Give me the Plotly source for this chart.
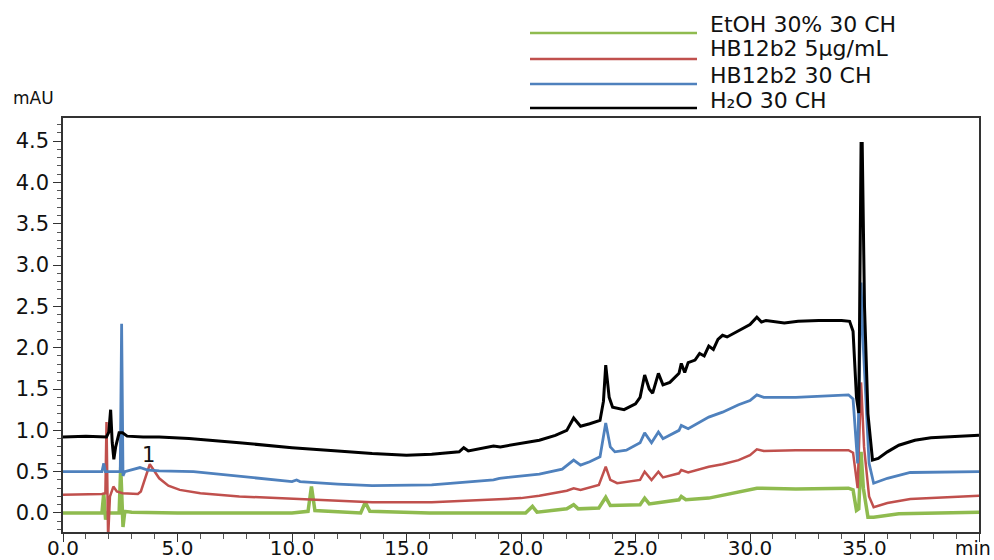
import plotly.graph_objects as go

# ---------------- data ----------------
h2o_t = [0, 1.0, 1.9, 2.0, 2.08, 2.15, 2.22, 2.3, 2.45, 2.6, 2.8, 3.5, 4.2, 5.5, 7.7, 10.0, 12.0, 13.5,
         15.0, 16.1, 17.3, 17.5, 17.7, 18.8, 19.1, 20.0, 20.8, 21.5, 22.0, 22.3, 22.6, 23.0, 23.45, 23.6,
         23.7, 23.85, 24.0, 24.5, 25.0, 25.2, 25.4, 25.6, 25.75, 26.0, 26.2, 26.5, 26.9, 27.0, 27.15, 27.3,
         27.6, 27.8, 28.0, 28.2, 28.4, 28.6, 28.8, 29.0, 29.5, 30.0, 30.3, 30.5, 30.7, 31.5, 32.1, 33.0,
         34.0, 34.35, 34.5, 34.65, 34.75, 34.85, 34.9, 35.0, 35.15, 35.35, 35.6, 36.0, 36.5, 37.2, 37.9,
         39.0, 40.0]
h2o_v = [0.92, 0.93, 0.92, 0.98, 1.25, 0.85, 0.65, 0.80, 0.97, 0.97, 0.93, 0.92, 0.92, 0.90, 0.85, 0.79,
         0.75, 0.72, 0.70, 0.71, 0.74, 0.79, 0.75, 0.81, 0.80, 0.84, 0.88, 0.94, 1.00, 1.15, 1.05, 1.08,
         1.12, 1.35, 1.79, 1.40, 1.28, 1.25, 1.32, 1.40, 1.67, 1.50, 1.45, 1.69, 1.55, 1.58, 1.69, 1.81,
         1.70, 1.82, 1.85, 1.93, 1.90, 2.02, 1.98, 2.10, 2.15, 2.13, 2.21, 2.28, 2.37, 2.31, 2.33, 2.30,
         2.32, 2.33, 2.33, 2.32, 2.20, 1.40, 1.21, 4.47, 4.47, 2.50, 1.20, 0.64, 0.66, 0.74, 0.82, 0.88,
         0.91, 0.93, 0.94]

hb30_t = [0, 1.7, 1.78, 1.85, 2.4, 2.5, 2.56, 2.62, 2.7, 3.0, 3.36, 3.7, 4.2, 5.7, 8.0, 10.0, 10.2, 10.35,
          12.0, 13.5, 16.1, 18.8, 19.06, 20.8, 21.8, 22.3, 22.6, 23.0, 23.45, 23.7, 23.9, 24.1, 24.6, 25.2,
          25.4, 25.7, 26.0, 26.2, 26.9, 27.0, 27.3, 27.8, 28.2, 28.8, 29.5, 30.0, 30.3, 30.6, 32.0, 34.3,
          34.5, 34.7, 34.85, 34.95, 35.2, 35.4, 36.0, 37.0, 40.0]
hb30_v = [0.50, 0.50, 0.60, 0.50, 0.50, 0.50, 2.29, 0.45, 0.50, 0.52, 0.55, 0.52, 0.51, 0.50, 0.44, 0.38,
          0.40, 0.38, 0.35, 0.33, 0.34, 0.40, 0.42, 0.47, 0.53, 0.64, 0.58, 0.62, 0.68, 1.09, 0.80, 0.74,
          0.76, 0.85, 0.97, 0.85, 0.98, 0.90, 1.00, 1.06, 1.02, 1.10, 1.16, 1.22, 1.31, 1.36, 1.43, 1.40,
          1.40, 1.43, 1.38, 0.60, 2.79, 2.00, 0.60, 0.36, 0.42, 0.49, 0.50]

hb5_t = [0, 1.7, 1.85, 1.9, 1.97, 2.05, 2.2, 2.35, 2.6, 3.27, 3.4, 3.79, 4.2, 4.6, 5.1, 6.0, 7.7, 10.0,
         13.5, 16.1, 18.8, 20.0, 20.8, 22.0, 22.3, 22.6, 23.4, 23.7, 23.9, 24.2, 25.2, 25.4, 25.7, 26.0,
         26.2, 26.9, 27.0, 27.3, 28.2, 28.8, 29.5, 30.0, 30.3, 30.6, 32.0, 34.3, 34.5, 34.7, 34.85, 34.98,
         35.2, 35.4, 36.0, 37.0, 40.0]
hb5_v = [0.22, 0.23, 0.24, 1.10, -0.30, 0.20, 0.32, 0.26, 0.24, 0.23, 0.26, 0.59, 0.42, 0.33, 0.28, 0.24,
         0.20, 0.17, 0.13, 0.13, 0.16, 0.18, 0.21, 0.27, 0.30, 0.28, 0.34, 0.56, 0.40, 0.36, 0.40, 0.50,
         0.40, 0.50, 0.43, 0.48, 0.52, 0.49, 0.56, 0.59, 0.64, 0.70, 0.77, 0.75, 0.76, 0.76, 0.73, 0.30,
         1.58, 0.80, 0.20, 0.07, 0.12, 0.17, 0.21]

etoh_t = [0, 1.7, 1.78, 1.86, 1.95, 2.45, 2.52, 2.62, 2.7, 3.0, 5.0, 10.0, 10.7, 10.85, 11.0, 13.0, 13.2,
          13.4, 16.0, 20.2, 20.5, 20.7, 22.0, 22.3, 22.5, 23.4, 23.7, 23.9, 25.2, 25.4, 25.6, 26.9, 27.0,
          27.2, 28.2, 29.5, 30.3, 32.0, 34.3, 34.5, 34.65, 34.75, 34.85, 34.95, 35.15, 35.4, 36.5, 40.0]
etoh_v = [0.00, 0.00, 0.24, -0.08, 0.00, 0.00, 0.56, -0.17, 0.02, 0.01, 0.00, 0.00, 0.02, 0.32, 0.03,
          0.00, 0.13, 0.02, 0.00, 0.00, 0.08, 0.01, 0.05, 0.10, 0.05, 0.06, 0.19, 0.09, 0.10, 0.18, 0.11,
          0.16, 0.20, 0.16, 0.18, 0.25, 0.30, 0.29, 0.30, 0.28, 0.03, 0.05, 0.74, 0.30, -0.05, -0.05, -0.01,
          0.01]

series_names = ["EtOH 30% 30 CH", "HB12b2 5µg/mL", "HB12b2 30 CH", "H₂O 30 CH"]
series_colors = ["#8fbb4f", "#c0504d", "#4f81bd", "#000000"]
series_widths = [3.5, 2.5, 2.8, 3]

x_tickvals = [0, 5, 10, 15, 20, 25, 30, 35, 40]
x_ticktext = ["0.0", "5.0", "10.0", "15.0", "20.0", "25.0", "30.0", "35.0", ""]
x_unit = "min"
y_tickvals = [0.0, 0.5, 1.0, 1.5, 2.0, 2.5, 3.0, 3.5, 4.0, 4.5]
y_ticktext = ["0.0", "0.5", "1.0", "1.5", "2.0", "2.5", "3.0", "3.5", "4.0", "4.5"]
y_unit = "mAU"

peak_label = "1"
peak_x, peak_y = 3.75, 0.70

# ---------------- figure ----------------
W, H = 994, 560
ML, MR, MT, MB = 63, 15, 118, 28
FONT = "DejaVu Sans, Arial, sans-serif"

fig = go.Figure()
data = [(etoh_t, etoh_v), (hb5_t, hb5_v), (hb30_t, hb30_v), (h2o_t, h2o_v)]
for (t, v), name, col, w in zip(data, series_names, series_colors, series_widths):
    fig.add_trace(go.Scatter(x=t, y=v, mode="lines", name=name,
                             line=dict(color=col, width=w), showlegend=False))

fig.add_annotation(x=peak_x, y=peak_y, text=peak_label, showarrow=False,
                   font=dict(family=FONT, size=21, color="#111"))

# manual legend above the plot (pixel layout converted to paper coords)
pw, ph = W - ML - MR, H - MT - MB
def px(xp):
    return (xp - ML) / pw
def py(yp):
    return (H - MB - yp) / ph

line_rows = [33, 59, 84, 108]
text_rows = [24, 49, 75, 100]
for i, (name, col) in enumerate(zip(series_names, series_colors)):
    fig.add_shape(type="line", xref="paper", yref="paper",
                  x0=px(530), x1=px(697), y0=py(line_rows[i]), y1=py(line_rows[i]),
                  line=dict(color=col, width=2.5))
    fig.add_annotation(xref="paper", yref="paper", x=px(708), y=py(text_rows[i]),
                       text=name, showarrow=False, xanchor="left", yanchor="middle",
                       font=dict(family=FONT, size=22, color="#111"))

fig.add_annotation(xref="paper", yref="paper", x=px(11), y=py(98), text=y_unit,
                   showarrow=False, xanchor="left", yanchor="middle",
                   font=dict(family=FONT, size=17, color="#111"))
fig.add_annotation(xref="paper", yref="paper", x=px(993), y=py(548), text=x_unit,
                   showarrow=False, xanchor="right", yanchor="middle",
                   font=dict(family=FONT, size=19, color="#111"))

axis_common = dict(showline=True, linecolor="#333", linewidth=1.5, mirror=True,
                   showgrid=False, zeroline=False, ticks="outside", ticklen=8,
                   tickcolor="#333", tickwidth=1.2, automargin=False)

fig.update_xaxes(range=[0, 40], tickvals=x_tickvals, ticktext=x_ticktext,
                 ticklabelstandoff=-11, tickfont=dict(family=FONT, size=20, color="#111"),
                 minor=dict(ticks="outside", ticklen=5, dtick=1, tick0=0, tickcolor="#555"),
                 **axis_common)
fig.update_yaxes(range=[-0.23, 4.78], tickvals=y_tickvals, ticktext=y_ticktext,
                 tickfont=dict(family=FONT, size=21, color="#111"),
                 minor=dict(ticks="outside", ticklen=4, dtick=0.1, tick0=0, tickcolor="#555"),
                 **axis_common)

fig.update_layout(width=W, height=H, autosize=False,
                  margin=dict(l=ML, r=MR, t=MT, b=MB, pad=0, autoexpand=False),
                  plot_bgcolor="white", paper_bgcolor="white", showlegend=False,
                  font=dict(family=FONT))

fig.write_html("out.html", config={"responsive": False})
